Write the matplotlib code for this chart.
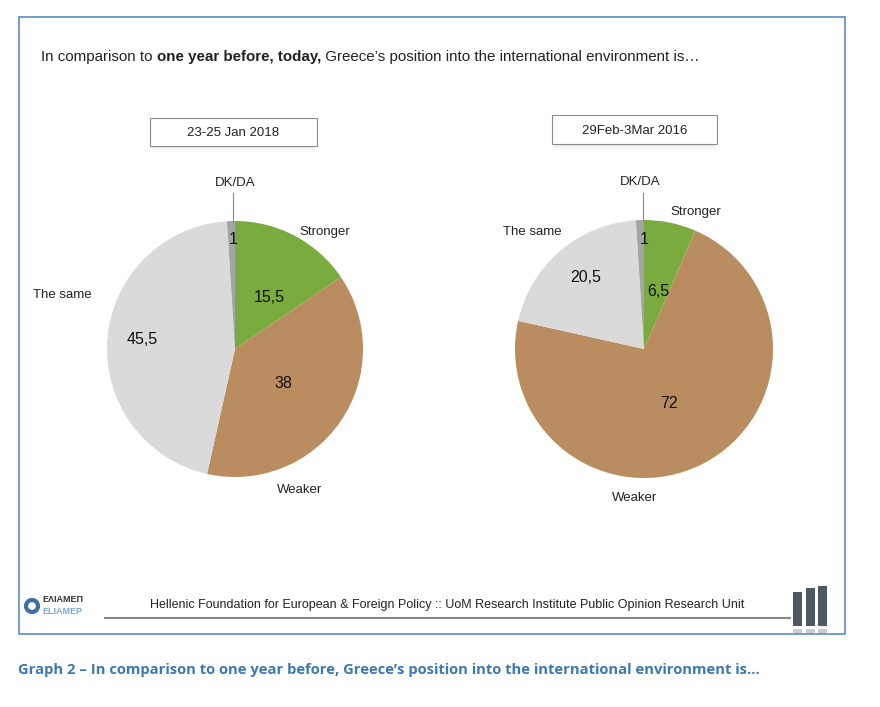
import matplotlib.pyplot as plt
from matplotlib.patches import Rectangle

categories = ['Stronger', 'Weaker', 'The same', 'DK/DA']
vals_2018 = [15.5, 38, 45.5, 1]
vals_2016 = [6.5, 72, 20.5, 1]
value_text_2018 = ['15,5', '38', '45,5', '1']
value_text_2016 = ['6,5', '72', '20,5', '1']
dates = ['23-25 Jan 2018', '29Feb-3Mar 2016']
colors = ['#7aab3e', '#b98d5f', '#dadada', '#a5a5a5']

W, H = 880, 707
fig = plt.figure(figsize=(8.8, 7.07), dpi=100)
ax = fig.add_axes([0, 0, 1, 1])
ax.set_xlim(0, W)
ax.set_ylim(0, H)
ax.axis('off')

def Y(py):  # pixel row from top -> data y
    return H - py

font = 'Liberation Sans'

# outer frame
ax.add_patch(Rectangle((19, Y(634)), 826, 617, fill=False, ec='#5b8ac6', lw=1.2))

# header line, mixed weight
pieces = [('In comparison to ', 'normal'), ('one year before, today,', 'bold'),
          (' Greece\u2019s position into the international environment is\u2026', 'normal')]
fig.canvas.draw()
r = fig.canvas.get_renderer()
x = 41
for s, w in pieces:
    t = ax.text(x, Y(57), s, fontsize=10.9, fontweight=w, family=font,
                color='#222222', va='center', ha='left')
    bb = t.get_window_extent(renderer=r)
    x += bb.width

def draw_pie(vals, vtexts, cx, cy, rad, date, box, lbls, vpos, line):
    ax.pie(vals, colors=colors, startangle=90, counterclock=False,
           center=(cx, Y(cy)), radius=rad, frame=True,
           wedgeprops=dict(linewidth=0))
    # date box with shadow
    bx0, by0, bx1, by1 = box
    for i, a in enumerate([0.10, 0.07, 0.04]):
        ax.add_patch(Rectangle((bx0 + 2, Y(by1 + 2 + i * 2)), bx1 - bx0 - 4, 3,
                               fc='#888888', ec='none', alpha=a))
    ax.add_patch(Rectangle((bx0, Y(by1)), bx1 - bx0, by1 - by0, fc='white',
                           ec='#8c8c8c', lw=0.8))
    ax.text((bx0 + bx1) / 2, Y((by0 + by1) / 2 + 1), date, fontsize=9.5, family=font,
            ha='center', va='center', color='#222222')
    for name, (px, py) in zip(categories, lbls):
        ax.text(px, Y(py), name, fontsize=9.5, family=font, ha='center',
                va='center', color='#222222')
    for vt, (px, py) in zip(vtexts, vpos):
        ax.text(px, Y(py), vt, fontsize=11.5, family=font, ha='center',
                va='center', color='#111111')
    ax.plot([line[0], line[0]], [Y(line[1]), Y(line[2])], color='#888888', lw=0.8)

draw_pie(vals_2018, value_text_2018, 235, 349, 128, dates[0], (150, 118, 317, 146),
         [(325, 232), (300, 490), (62, 295), (235, 183)],
         [(269, 297), (283, 384), (142, 340), (233, 240)], (233, 193, 222))
draw_pie(vals_2016, value_text_2016, 644, 349, 129, dates[1], (552, 115, 717, 144),
         [(696, 212), (635, 498), (532, 232), (640, 182)],
         [(658, 291), (669, 404), (586, 277), (644, 240)], (643, 193, 221))

ax.set_xlim(0, W)
ax.set_ylim(0, H)
ax.set_aspect('auto')
ax.axis('off')

# footer
ax.plot([105, 790], [Y(618), Y(618)], color='#555555', lw=1.5, alpha=0.7)
ax.text(447, Y(605), 'Hellenic Foundation for European & Foreign Policy :: UoM Research '
        'Institute Public Opinion Research Unit', fontsize=9, family=font,
        ha='center', va='center', color='#222222')
ax.add_patch(plt.Circle((32, Y(606)), 6, fc='none', ec='#3f6fa8', lw=3))
ax.text(42, Y(600), '\u0395\u039b\u0399\u0391\u039c\u0395\u03a0', fontsize=6.5,
        fontweight='bold', family=font, color='#333333', va='center', ha='left')
ax.text(42, Y(611), 'ELIAMEP', fontsize=6.5, fontweight='bold', family=font,
        color='#7fa6d0', va='center', ha='left')
for bx, bh in [(793, 34), (806, 38), (818, 40)]:
    ax.add_patch(Rectangle((bx, Y(626)), 9, bh, fc='#4d5a63', ec='none'))
    ax.add_patch(Rectangle((bx, Y(633)), 9, 4, fc='#c8cdd0', ec='none'))

# caption
ax.text(18, Y(670), 'Graph 2 \u2013 In comparison to one year before, Greece\u2019s position '
        'into the international environment is\u2026', fontsize=10.6, fontweight='bold',
        family='Open Sans', color='#3b78b5', va='center', ha='left')

fig.savefig('out.png', dpi=100)
